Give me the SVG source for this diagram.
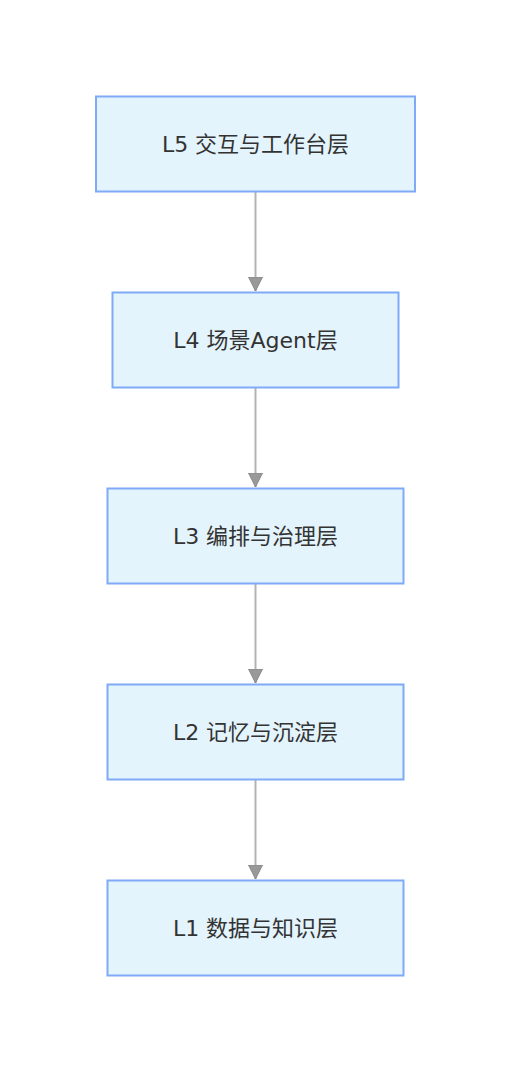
<svg xmlns="http://www.w3.org/2000/svg" width="511" height="1072" viewBox="0 0 511 1072">
<style>
.box{fill:#e4f4fd;stroke:#7eaaf6;stroke-width:2}
.lbl{font-family:"DejaVu Sans","Noto Sans CJK SC",sans-serif;font-size:22px;fill:#333;text-anchor:middle;dominant-baseline:central}
.edge{stroke:#b3b3b3;stroke-width:2;fill:none}
</style>
<defs>
<marker id="arr" markerUnits="userSpaceOnUse" markerWidth="16" markerHeight="16" refX="14" refY="8" orient="auto" viewBox="0 0 16 16">
<path d="M0,1 L14,8 L0,15 Z" fill="#999" stroke="#888" stroke-width="1"/>
</marker>
</defs>
<rect width="511" height="1072" fill="#fff"/>
<g id="connectors">
<line class="edge" x1="255.5" y1="192" x2="255.5" y2="291" marker-end="url(#arr)"/>
<line class="edge" x1="255.5" y1="388" x2="255.5" y2="487" marker-end="url(#arr)"/>
<line class="edge" x1="255.5" y1="584" x2="255.5" y2="683" marker-end="url(#arr)"/>
<line class="edge" x1="255.5" y1="780" x2="255.5" y2="879" marker-end="url(#arr)"/>
</g>
<g id="L5"><rect class="box" x="96" y="96.5" width="319" height="95"/><text class="lbl" x="255.5" y="144">L5 交互与工作台层</text></g>
<g id="L4"><rect class="box" x="112.5" y="292.5" width="286" height="95"/><text class="lbl" x="255.5" y="340">L4 场景Agent层</text></g>
<g id="L3"><rect class="box" x="107.5" y="488.5" width="296" height="95"/><text class="lbl" x="255.5" y="536">L3 编排与治理层</text></g>
<g id="L2"><rect class="box" x="107.5" y="684.5" width="296" height="95"/><text class="lbl" x="255.5" y="732">L2 记忆与沉淀层</text></g>
<g id="L1"><rect class="box" x="107.5" y="880.5" width="296" height="95"/><text class="lbl" x="255.5" y="928">L1 数据与知识层</text></g>
</svg>
